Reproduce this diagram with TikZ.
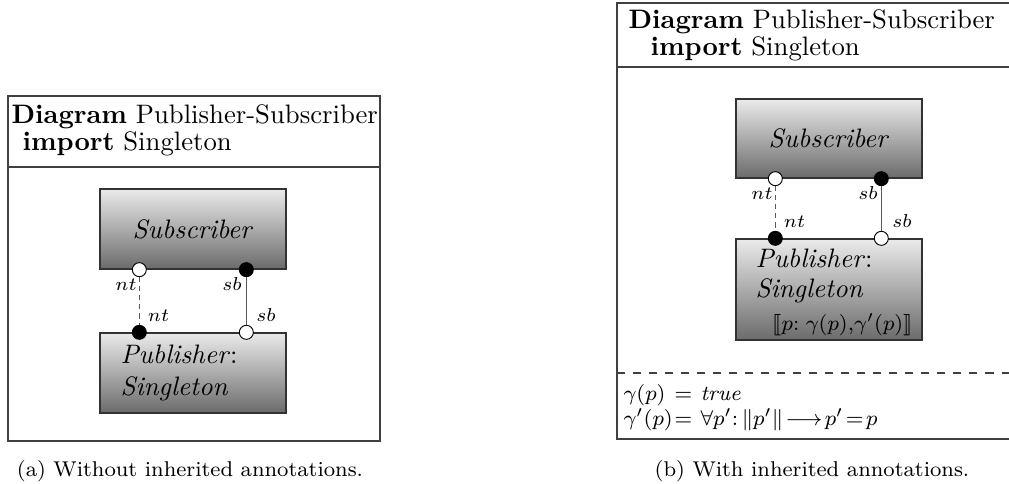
\documentclass[tikz,border=0pt]{standalone}
\usepackage{amsmath}
\usepackage{stmaryrd}
% one drawing unit of the layout grid
\newcommand\pxl{0.3745pt}
\begin{document}
\begin{tikzpicture}[x=\pxl,y=-\pxl,
  frame/.style={draw=black!75, line width=0.45pt},
  comp/.style={rectangle, draw=black!80, line width=0.5pt, top color=black!8,
    bottom color=black!58, inner sep=0pt, minimum width=186*\pxl},
  portw/.style={circle, draw=black, line width=0.35pt, fill=white,
    minimum size=14*\pxl, inner sep=0pt},
  portb/.style={portw, fill=black},
  lab/.style={font=\scriptsize, inner sep=0pt, anchor=base},
  txt/.style={inner sep=0pt, anchor=base west},
  ann/.style={inner sep=0pt, anchor=base west, font=\footnotesize},
  eqn/.style={inner sep=0pt, anchor=base west, font=\footnotesize},
  link/.style={draw=black!65, line width=0.4pt},
  weak/.style={link, dash pattern=on 1.9pt off 1.5pt},
  subcap/.style={inner sep=0pt, anchor=base, font=\footnotesize},
]
\useasboundingbox (0,0) rectangle (1009,484);
\clip (0,0) rectangle (1009,484);

% ---------- (a) diagram without annotations ----------
\draw[frame] (8,96) rectangle (380,441);
\draw[frame] (8,167) -- (380,167);
\node[txt] (hdA1) at (11,123) {\textbf{Diagram} Publisher-Subscriber};
\node[txt] (hdA2) at (22,150) {\textbf{import} Singleton};

\node[comp, minimum height=80*\pxl] (subA) at (193,229) {\textit{Subscriber}};
\node[comp, minimum height=80*\pxl] (pubA) at (193,373) {};
\node[txt] (pubA1) at (120,363) {\textit{Publisher}:};
\node[txt] (pubA2) at (120,395) {\textit{Singleton}};

\node[portw] (ntSA) at ([xshift=40*\pxl]subA.south west) {};
\node[portb] (sbSA) at ([xshift=147*\pxl]subA.south west) {};
\node[portb] (ntPA) at ([xshift=40*\pxl]pubA.north west) {};
\node[portw] (sbPA) at ([xshift=147*\pxl]pubA.north west) {};
\draw[weak] (ntSA) -- (ntPA);
\draw[link] (sbSA) -- (sbPA);

\node[lab] (lA1) at (126,290) {$nt$};
\node[lab] (lA2) at (232,290) {$sb$};
\node[lab] (lA3) at (158.5,321) {$nt$};
\node[lab] (lA4) at (266,321) {$sb$};

\node[subcap] (capA) at (190,476) {(a) Without inherited annotations.};

% ---------- (b) diagram with inherited annotations ----------
\draw[frame] (1020,3) -- (617,3) -- (617,439) -- (1020,439);
\draw[frame] (617,67) -- (1020,67);
\draw[frame, dash pattern=on 3pt off 3pt] (617,373) -- (1020,373);
\node[txt] (hdB1) at (628,28) {\textbf{Diagram} Publisher-Subscriber};
\node[txt] (hdB2) at (650,55) {\textbf{import} Singleton};

\node[comp, minimum height=79*\pxl] (subB) at (829,138.5) {\textit{Subscriber}};
\node[comp, minimum height=101*\pxl] (pubB) at (829,289.5) {};
\node[txt] (pubB1) at (755,267) {\textit{Publisher}:};
\node[txt] (pubB2) at (755,297) {\textit{Singleton}};
\node[ann, anchor=base east] (pubB3) at (913,330)
  {$\llbracket p\mathord{:}\;\gamma(p){,}\gamma'(p)\rrbracket$};

\node[portw] (ntSB) at ([xshift=40*\pxl]subB.south west) {};
\node[portb] (sbSB) at ([xshift=146*\pxl]subB.south west) {};
\node[portb] (ntPB) at ([xshift=40*\pxl]pubB.north west) {};
\node[portw] (sbPB) at ([xshift=146*\pxl]pubB.north west) {};
\draw[weak] (ntSB) -- (ntPB);
\draw[link] (sbSB) -- (sbPB);

\node[lab] (lB1) at (762,199) {$nt$};
\node[lab] (lB2) at (868,199) {$sb$};
\node[lab] (lB3) at (794.5,227) {$nt$};
\node[lab] (lB4) at (902,227) {$sb$};

% invariant definitions
\node[eqn] (eq1l) at (623,400) {$\gamma(p)$};
\node[eqn, anchor=base] (eq1m) at (683.5,400) {$=$};
\node[eqn] (eq1r) at (700,400) {\textit{true}};
\node[eqn] (eq2l) at (623,425) {$\gamma'(p)$};
\node[eqn, anchor=base] (eq2m) at (683.5,425) {$=$};
\node[eqn] (eq2r) at (700,425)
  {$\forall p'\mathord{:}\,\|p'\|\!\longrightarrow\!p'\!=\!p$};

\node[subcap] (capB) at (812,476) {(b) With inherited annotations.};
\end{tikzpicture}
\end{document}
